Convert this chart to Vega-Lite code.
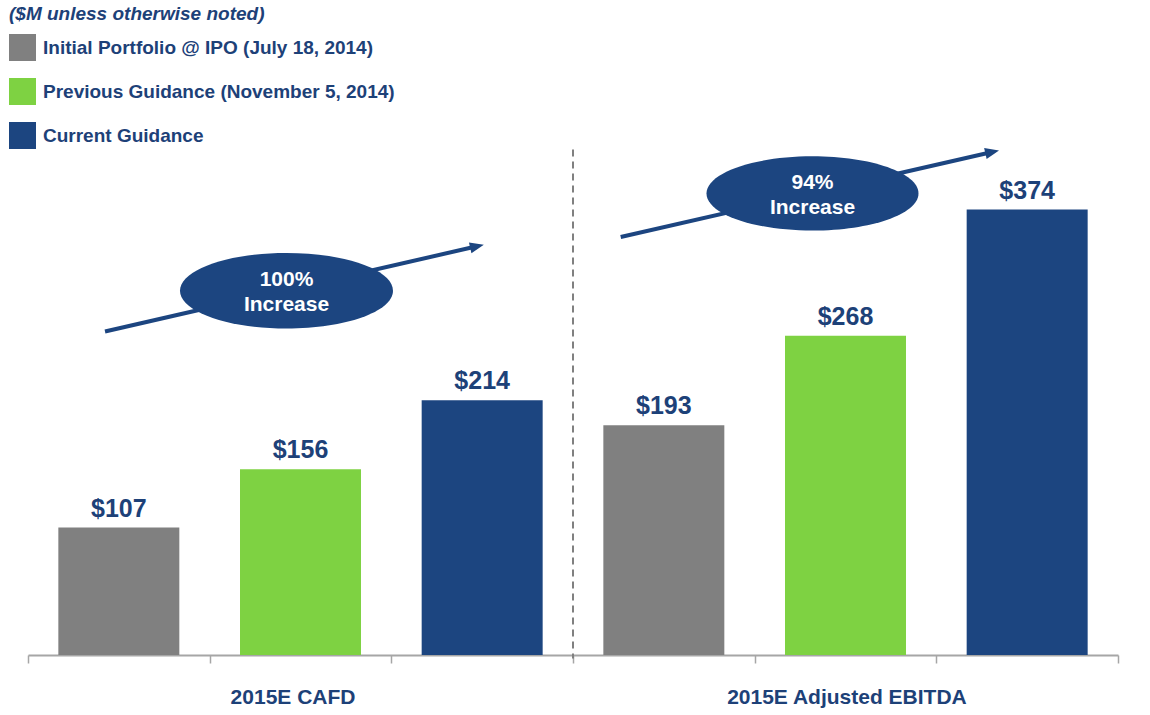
{
  "$schema": "https://vega.github.io/schema/vega-lite/v6.json",
  "width": 1090,
  "height": 655,
  "autosize": "none",
  "padding": {"left": 28, "top": 0, "right": 32, "bottom": 60},
  "background": "white",
  "config": {"view": {"stroke": null}, "font": "Liberation Sans"},
  "datasets": {
    "bars": [
      {"metric": "2015E CAFD", "series": "Initial Portfolio @ IPO (July 18, 2014)", "value": 107},
      {"metric": "2015E CAFD", "series": "Previous Guidance (November 5, 2014)", "value": 156},
      {"metric": "2015E CAFD", "series": "Current Guidance", "value": 214},
      {"metric": "2015E Adjusted EBITDA", "series": "Initial Portfolio @ IPO (July 18, 2014)", "value": 193},
      {"metric": "2015E Adjusted EBITDA", "series": "Previous Guidance (November 5, 2014)", "value": 268},
      {"metric": "2015E Adjusted EBITDA", "series": "Current Guidance", "value": 374}
    ]
  },
  "layer": [
    {
      "data": {"name": "bars"},
      "layer": [
        {
          "mark": {"type": "bar"},
          "encoding": {
            "x": {"field": "metric", "type": "nominal", "sort": ["2015E CAFD", "2015E Adjusted EBITDA"], "scale": {"paddingInner": 0, "paddingOuter": 0}, "axis": null},
            "xOffset": {"field": "series", "type": "nominal", "sort": ["Initial Portfolio @ IPO (July 18, 2014)", "Previous Guidance (November 5, 2014)", "Current Guidance"], "scale": {"paddingInner": 0.334, "paddingOuter": 0.167}},
            "y": {"field": "value", "type": "quantitative", "scale": {"domain": [0, 550]}, "axis": null},
            "color": {
              "field": "series", "type": "nominal",
              "sort": ["Initial Portfolio @ IPO (July 18, 2014)", "Previous Guidance (November 5, 2014)", "Current Guidance"],
              "scale": {"domain": ["Initial Portfolio @ IPO (July 18, 2014)", "Previous Guidance (November 5, 2014)", "Current Guidance"], "range": ["#808080", "#7ed242", "#1c4580"]},
              "legend": {
                "orient": "none", "legendX": -19, "legendY": 5,
                "title": "($M unless otherwise noted)",
                "titleFontStyle": "italic", "titleFontSize": 19, "titleFontWeight": "bold", "titleColor": "#1d4178", "titleFont": "Liberation Sans", "titlePadding": 10, "titleLimit": 600,
                "symbolType": "square", "symbolSize": 729, "symbolStrokeWidth": 0, "symbolOpacity": 1,
                "labelFontSize": 19, "labelFontWeight": "bold", "labelColor": "#1d4178", "labelFont": "Liberation Sans", "labelOffset": 7, "labelLimit": 600,
                "rowPadding": 17, "padding": 0
              }
            }
          }
        },
        {
          "mark": {"type": "text", "dy": -11, "baseline": "alphabetic", "fontSize": 25, "fontWeight": "bold", "color": "#1d4178"},
          "encoding": {
            "x": {"field": "metric", "type": "nominal", "sort": ["2015E CAFD", "2015E Adjusted EBITDA"], "axis": null},
            "xOffset": {"field": "series", "type": "nominal", "sort": ["Initial Portfolio @ IPO (July 18, 2014)", "Previous Guidance (November 5, 2014)", "Current Guidance"]},
            "y": {"field": "value", "type": "quantitative", "scale": {"domain": [0, 550]}, "axis": null},
            "text": {"field": "value", "type": "quantitative", "format": "$,.0f"}
          }
        }
      ]
    },
    {
      "data": {"values": [{}]},
      "layer": [
        {
          "mark": {"type": "rule", "color": "#808080", "strokeWidth": 2, "strokeDash": [7, 5]},
          "encoding": {
            "x": {"datum": 3, "type": "quantitative", "scale": {"domain": [0, 6], "nice": false, "zero": false},
                  "axis": {"values": [0, 1, 2, 3, 4, 5, 6], "labels": false, "grid": false, "title": null, "domainColor": "#a6a6a6", "domainWidth": 2, "tickColor": "#a6a6a6", "tickWidth": 1.5, "tickSize": 8}},
            "y": {"datum": 424.4, "type": "quantitative", "scale": {"domain": [0, 550]}, "axis": null},
            "y2": {"datum": -3}
          }
        },
        {
          "mark": {"type": "rule", "color": "#1c4580", "strokeWidth": 4},
          "encoding": {
            "x": {"datum": 0.4239, "type": "quantitative", "scale": {"domain": [0, 6], "nice": false, "zero": false},
                  "axis": {"values": [0, 1, 2, 3, 4, 5, 6], "labels": false, "grid": false, "title": null, "domainColor": "#a6a6a6", "domainWidth": 2, "tickColor": "#a6a6a6", "tickWidth": 1.5, "tickSize": 8}},
            "y": {"datum": 271.7, "type": "quantitative", "scale": {"domain": [0, 550]}, "axis": null},
            "x2": {"datum": 2.4716},
            "y2": {"datum": 343.2}
          }
        },
        {
          "mark": {"type": "rule", "color": "#1c4580", "strokeWidth": 4},
          "encoding": {
            "x": {"datum": 3.2626, "type": "quantitative", "scale": {"domain": [0, 6], "nice": false, "zero": false},
                  "axis": {"values": [0, 1, 2, 3, 4, 5, 6], "labels": false, "grid": false, "title": null, "domainColor": "#a6a6a6", "domainWidth": 2, "tickColor": "#a6a6a6", "tickWidth": 1.5, "tickSize": 8}},
            "y": {"datum": 351.0, "type": "quantitative", "scale": {"domain": [0, 550]}, "axis": null},
            "x2": {"datum": 5.3075},
            "y2": {"datum": 422.4}
          }
        },
        {
          "mark": {"type": "point", "shape": "M1,0L-1,-0.8L-1,0.8Z", "filled": true, "color": "#1c4580", "opacity": 1, "size": 196, "angle": -12.9},
          "encoding": {
            "x": {"datum": 2.4716, "type": "quantitative", "scale": {"domain": [0, 6], "nice": false, "zero": false},
                  "axis": {"values": [0, 1, 2, 3, 4, 5, 6], "labels": false, "grid": false, "title": null, "domainColor": "#a6a6a6", "domainWidth": 2, "tickColor": "#a6a6a6", "tickWidth": 1.5, "tickSize": 8}},
            "y": {"datum": 343.2, "type": "quantitative", "scale": {"domain": [0, 550]}, "axis": null}
          }
        },
        {
          "mark": {"type": "point", "shape": "M1,0L-1,-0.8L-1,0.8Z", "filled": true, "color": "#1c4580", "opacity": 1, "size": 196, "angle": -12.9},
          "encoding": {
            "x": {"datum": 5.3075, "type": "quantitative", "scale": {"domain": [0, 6], "nice": false, "zero": false},
                  "axis": {"values": [0, 1, 2, 3, 4, 5, 6], "labels": false, "grid": false, "title": null, "domainColor": "#a6a6a6", "domainWidth": 2, "tickColor": "#a6a6a6", "tickWidth": 1.5, "tickSize": 8}},
            "y": {"datum": 422.4, "type": "quantitative", "scale": {"domain": [0, 550]}, "axis": null}
          }
        },
        {
          "mark": {"type": "point", "shape": "M-1,0A1,0.355,0,1,1,1,0A1,0.355,0,1,1,-1,0Z", "filled": true, "color": "#1c4580", "opacity": 1, "size": 45369},
          "encoding": {
            "x": {"datum": 1.4229, "type": "quantitative", "scale": {"domain": [0, 6], "nice": false, "zero": false},
                  "axis": {"values": [0, 1, 2, 3, 4, 5, 6], "labels": false, "grid": false, "title": null, "domainColor": "#a6a6a6", "domainWidth": 2, "tickColor": "#a6a6a6", "tickWidth": 1.5, "tickSize": 8}},
            "y": {"datum": 305.9, "type": "quantitative", "scale": {"domain": [0, 550]}, "axis": null}
          }
        },
        {
          "mark": {"type": "point", "shape": "M-1,0A1,0.35,0,1,1,1,0A1,0.35,0,1,1,-1,0Z", "filled": true, "color": "#1c4580", "opacity": 1, "size": 44944},
          "encoding": {
            "x": {"datum": 4.3183, "type": "quantitative", "scale": {"domain": [0, 6], "nice": false, "zero": false},
                  "axis": {"values": [0, 1, 2, 3, 4, 5, 6], "labels": false, "grid": false, "title": null, "domainColor": "#a6a6a6", "domainWidth": 2, "tickColor": "#a6a6a6", "tickWidth": 1.5, "tickSize": 8}},
            "y": {"datum": 387.6, "type": "quantitative", "scale": {"domain": [0, 550]}, "axis": null}
          }
        },
        {
          "mark": {"type": "text", "text": ["100%", "Increase"], "lineHeight": 25, "baseline": "middle", "align": "center", "fontSize": 21, "fontWeight": "bold", "color": "white"},
          "encoding": {
            "x": {"datum": 1.4229, "type": "quantitative", "scale": {"domain": [0, 6], "nice": false, "zero": false},
                  "axis": {"values": [0, 1, 2, 3, 4, 5, 6], "labels": false, "grid": false, "title": null, "domainColor": "#a6a6a6", "domainWidth": 2, "tickColor": "#a6a6a6", "tickWidth": 1.5, "tickSize": 8}},
            "y": {"datum": 315.1, "type": "quantitative", "scale": {"domain": [0, 550]}, "axis": null}
          }
        },
        {
          "mark": {"type": "text", "text": ["94%", "Increase"], "lineHeight": 25, "baseline": "middle", "align": "center", "fontSize": 21, "fontWeight": "bold", "color": "white"},
          "encoding": {
            "x": {"datum": 4.3183, "type": "quantitative", "scale": {"domain": [0, 6], "nice": false, "zero": false},
                  "axis": {"values": [0, 1, 2, 3, 4, 5, 6], "labels": false, "grid": false, "title": null, "domainColor": "#a6a6a6", "domainWidth": 2, "tickColor": "#a6a6a6", "tickWidth": 1.5, "tickSize": 8}},
            "y": {"datum": 396.6, "type": "quantitative", "scale": {"domain": [0, 550]}, "axis": null}
          }
        },
        {
          "mark": {"type": "text", "text": "2015E CAFD", "baseline": "middle", "align": "center", "fontSize": 21, "fontWeight": "bold", "color": "#1d4178"},
          "encoding": {
            "x": {"datum": 1.459, "type": "quantitative", "scale": {"domain": [0, 6], "nice": false, "zero": false},
                  "axis": {"values": [0, 1, 2, 3, 4, 5, 6], "labels": false, "grid": false, "title": null, "domainColor": "#a6a6a6", "domainWidth": 2, "tickColor": "#a6a6a6", "tickWidth": 1.5, "tickSize": 8}},
            "y": {"datum": -36.1, "type": "quantitative", "scale": {"domain": [0, 550]}, "axis": null}
          }
        },
        {
          "mark": {"type": "text", "text": "2015E Adjusted EBITDA", "baseline": "middle", "align": "center", "fontSize": 21, "fontWeight": "bold", "color": "#1d4178"},
          "encoding": {
            "x": {"datum": 4.508, "type": "quantitative", "scale": {"domain": [0, 6], "nice": false, "zero": false},
                  "axis": {"values": [0, 1, 2, 3, 4, 5, 6], "labels": false, "grid": false, "title": null, "domainColor": "#a6a6a6", "domainWidth": 2, "tickColor": "#a6a6a6", "tickWidth": 1.5, "tickSize": 8}},
            "y": {"datum": -36.1, "type": "quantitative", "scale": {"domain": [0, 550]}, "axis": null}
          }
        }
      ]
    }
  ],
  "resolve": {"scale": {"x": "independent", "xOffset": "independent"}}
}
